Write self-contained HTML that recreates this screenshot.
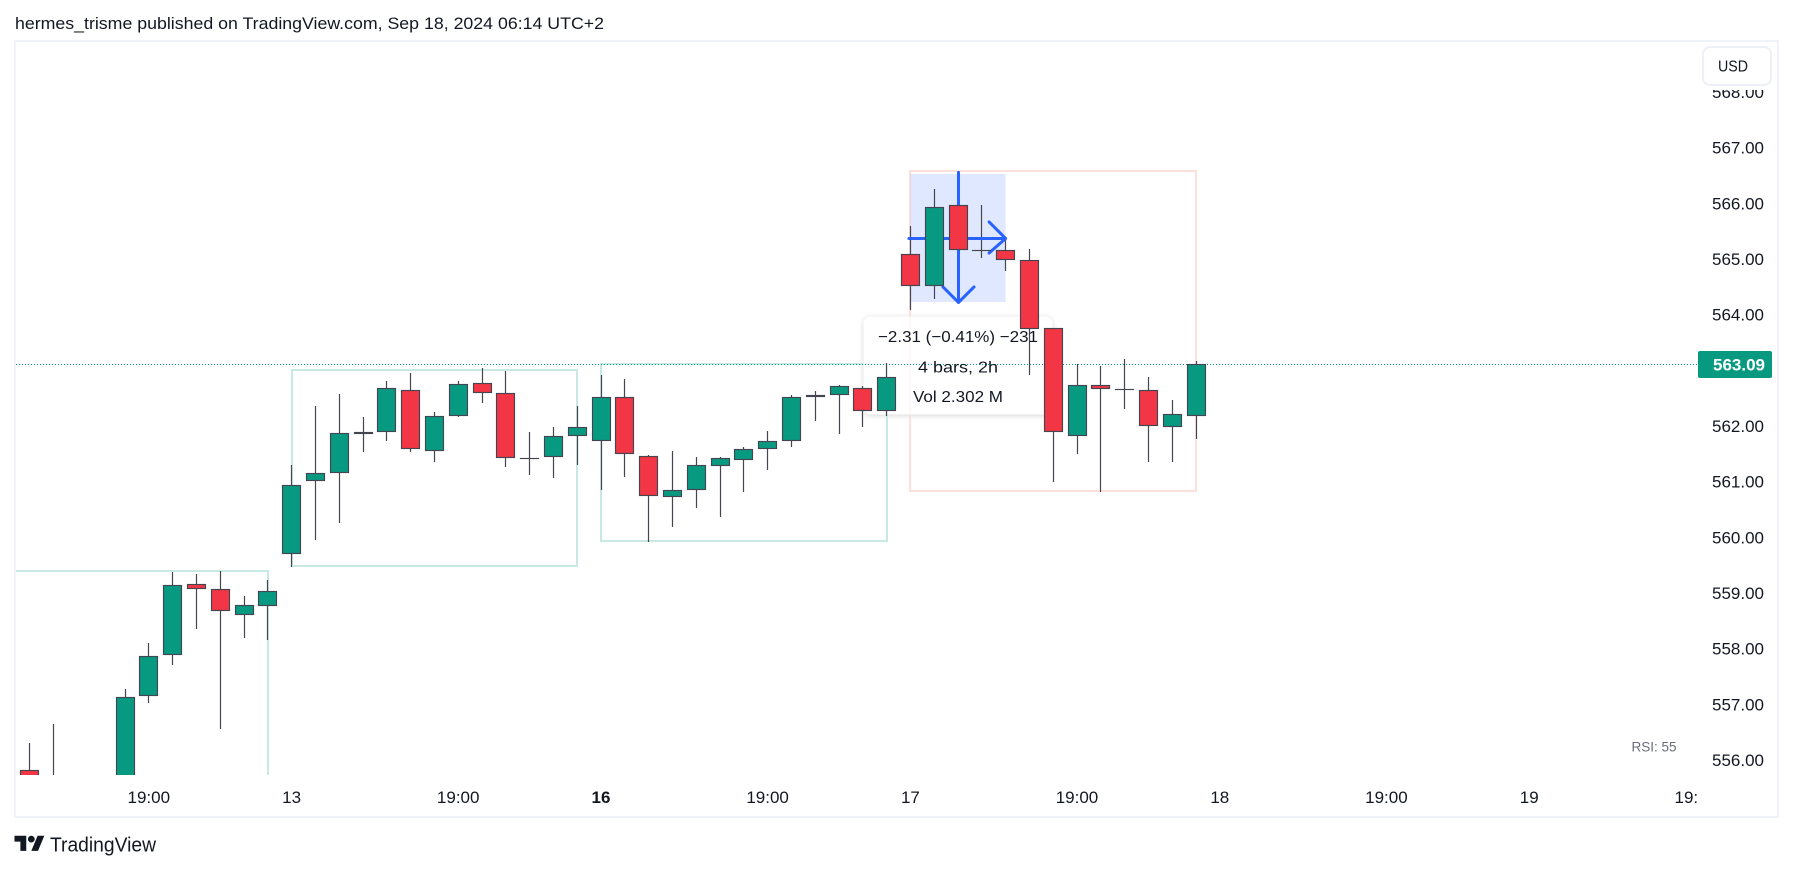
<!DOCTYPE html>
<html lang="en">
<head>
<meta charset="utf-8">
<title>TradingView chart</title>
<style>
html,body{margin:0;padding:0;background:#fff;width:1793px;height:870px;overflow:hidden}
svg{display:block}
text{font-family:"Liberation Sans",sans-serif;fill:#131722}
</style>
</head>
<body>
<svg id="chart" xmlns="http://www.w3.org/2000/svg" width="1793" height="870" viewBox="0 0 1793 870">
  <defs>
    <clipPath id="pane-clip"><rect x="16" y="42" width="1681" height="733"/></clipPath>
    <clipPath id="time-clip"><rect x="16" y="775" width="1681.5" height="41"/></clipPath>
  </defs>
  <rect x="0" y="0" width="1793" height="870" fill="#ffffff"/>
  <text x="15" y="29" font-size="17" textLength="589" lengthAdjust="spacingAndGlyphs">hermes_trisme published on TradingView.com, Sep 18, 2024 06:14 UTC+2</text>
  <rect x="15" y="41" width="1763" height="776" fill="#ffffff" stroke="#f0f3fa" stroke-width="2"/>
  <g id="pane" clip-path="url(#pane-clip)"></g>
  <g id="time-axis" clip-path="url(#time-clip)"></g>
  <g id="price-axis"></g>
  <rect x="1699" y="43" width="76" height="47" fill="#ffffff"/>
  <rect x="1703" y="47" width="68" height="38" rx="7" fill="#ffffff" stroke="#eef0f7" stroke-width="2"/>
  <text x="1718" y="71.5" font-size="16" textLength="30" lengthAdjust="spacingAndGlyphs">USD</text>
  <rect x="1698" y="351" width="74" height="27" rx="2" fill="#089981"/>
  <text id="last-price-text" x="1765" y="370.5" font-size="17" font-weight="bold" text-anchor="end" style="fill:#ffffff"></text>
  <text x="1631.5" y="751.5" font-size="13.5" textLength="45" lengthAdjust="spacingAndGlyphs" style="fill:#6a6d78">RSI: 55</text>
  <g>
    <g transform="translate(14.5,832.4) scale(0.84)" fill="#131722">
      <path d="M14 22H7V11H0V4h14v18zM28 22h-8l7.5-18h8L28 22z"/>
      <circle cx="20" cy="8" r="4"/>
    </g>
    <text x="50" y="851.5" font-size="20" textLength="106" lengthAdjust="spacingAndGlyphs">TradingView</text>
  </g>
  <g font-size="16" text-anchor="middle">
    <text x="958" y="342" textLength="160" lengthAdjust="spacingAndGlyphs">−2.31 (−0.41%) −231</text>
    <text x="958" y="372.5" textLength="80" lengthAdjust="spacingAndGlyphs">4 bars, 2h</text>
    <text x="958" y="402" textLength="90" lengthAdjust="spacingAndGlyphs">Vol 2.302 M</text>
  </g>
</svg>
<script>
// Bar times (30-minute bars, day + time)
const barTimes = [
"12 16:30","12 17:00","12 17:30","12 18:00","12 18:30","12 19:00","12 19:30","12 20:00","12 20:30","12 21:00","12 21:30",
"13 15:30","13 16:00","13 16:30","13 17:00","13 17:30","13 18:00","13 18:30","13 19:00","13 19:30","13 20:00","13 20:30","13 21:00","13 21:30",
"16 15:30","16 16:00","16 16:30","16 17:00","16 17:30","16 18:00","16 18:30","16 19:00","16 19:30","16 20:00","16 20:30","16 21:00","16 21:30",
"17 15:30","17 16:00","17 16:30","17 17:00","17 17:30","17 18:00","17 18:30","17 19:00","17 19:30","17 20:00","17 20:30","17 21:00","17 21:30"];
const opens = [555.81,554.90,554.50,554.90,555.40,557.14,557.86,559.14,559.05,558.59,558.75,
559.69,561.00,561.14,561.84,561.87,562.62,561.54,562.17,562.75,562.57,561.40,561.42,561.80,
561.72,562.50,561.44,560.70,560.83,561.27,561.37,561.56,561.72,562.50,562.53,562.66,562.25,
565.08,564.49,565.95,565.14,565.14,564.96,563.74,561.80,562.71,562.64,562.62,561.97,562.16];
const highs = [556.29,556.63,555.20,555.60,557.26,558.08,559.36,559.32,559.38,558.93,559.22,
561.28,562.34,562.56,562.14,562.79,562.93,562.23,562.79,563.02,562.97,561.87,561.96,562.34,
562.90,562.83,561.46,561.53,561.43,561.43,561.60,561.89,562.54,562.61,562.72,562.70,563.11,
565.57,566.24,566.56,565.95,565.35,565.17,563.74,563.09,563.06,563.19,562.86,562.45,563.15];
const lows = [555.00,554.60,554.20,554.70,555.20,557.01,557.68,558.34,556.54,558.18,558.13,
559.45,559.93,560.24,561.52,561.72,561.52,561.34,562.15,562.40,561.25,561.10,561.04,561.29,
560.83,561.07,559.90,560.17,560.50,560.35,560.80,561.20,561.61,562.08,561.84,561.97,562.17,
564.07,564.27,564.65,565.00,564.77,562.89,560.98,561.48,560.80,562.28,561.34,561.34,561.74];
const closes = [555.45,555.30,554.90,555.40,557.11,557.85,559.12,559.06,558.66,558.76,559.01,
560.93,561.13,561.85,561.87,562.66,561.56,562.17,562.73,562.57,561.40,561.41,561.80,561.96,
562.50,561.47,560.72,560.83,561.28,561.40,561.56,561.72,562.50,562.53,562.70,562.25,562.86,
564.49,565.91,565.14,565.14,564.96,563.72,561.87,562.71,562.64,562.64,561.99,562.19,563.09];

// Axis ticks
const priceTicks = [568,567,566,565,564,563,562,561,560,559,558,557,556];
const timeTickBars = [5,11,18,24,31,37,44,50,57,63,70];
const timeTickLabels = ["19:00","13","19:00","16","19:00","17","19:00","18","19:00","19","19:00"];
const timeTickBold = [false,false,false,true,false,false,false,false,false,false,false];
const lastPrice = 563.09;

// Annotation boxes, anchored to bars and prices
const boxStartBars = [-2,11,24,37];
const boxEndBars = [10,23,36,49];
const boxTopPrices = [559.38,562.99,563.09,566.56];
const boxBottomPrices = [555.00,559.47,559.92,560.82];
const boxKinds = ["teal","teal","teal","red"];
// Long/short measure anchored to bars and prices
const measureStartBar = 37;
const measureEndBar = 41;
const measureMidBar = 39;
const measureTop = 566.51;
const measureBottom = 564.21;
const measureMidPrice = 565.35;

// Axis functions
function xOf(barIndex){ return 29.8 + 23.8 * barIndex; }
function yOf(price){ return 364.3 - (price - 563.09) * 55.67; }

const NS = 'http://www.w3.org/2000/svg';
function make(tag, parent, props){
  const el = document.createElementNS(NS, tag);
  for (const k in props) el.setAttribute(k, props[k]);
  parent.appendChild(el);
  return el;
}
const pane = document.getElementById('pane');
const timeAxis = document.getElementById('time-axis');
const priceAxis = document.getElementById('price-axis');

// Tooltip shadow sits under everything in the pane
const tooltipShadow = make('rect', pane, {
  x: 863.5, y: 316.5, width: 189, height: 98, rx: 7,
  fill: '#ffffff',
  style: 'filter:drop-shadow(0 1px 3px rgba(0,0,0,0.16))'
});



// Annotation rectangles
boxKinds.forEach(function(kind, i){
  const left = Math.round(xOf(boxStartBars[i]));
  const top = Math.round(yOf(boxTopPrices[i]));
  const el = make('rect', pane, {
    x: left, y: top,
    width: Math.round(xOf(boxEndBars[i])) - left,
    height: Math.round(yOf(boxBottomPrices[i])) - top,
    fill: 'none',
    stroke: kind === 'teal' ? '#c8e8e3' : '#fde0dc',
    'stroke-width': 2
  });
  
  
});

// Measure highlight
(function(){
  const left = xOf(measureStartBar);
  const top = yOf(measureTop);
  const el = make('rect', pane, {
    x: left, y: top,
    width: xOf(measureEndBar) - left,
    height: yOf(measureBottom) - top,
    fill: '#2962ff', 'fill-opacity': 0.15
  });
  
  
})();

// Tooltip panel
const tooltipPanel = make('rect', pane, {
  x: 863.5, y: 316.5, width: 189, height: 98, rx: 7,
  fill: 'rgba(255,255,255,0.75)'
});



// Last price line
const lastLine = make('line', pane, {
  x1: 16, x2: 1697,
  y1: Math.floor(yOf(lastPrice)) + 0.5, y2: Math.floor(yOf(lastPrice)) + 0.5,
  stroke: '#089981', 'stroke-width': 1, 'stroke-dasharray': '1 2'
});



// Wicks
barTimes.forEach(function(t, i){
  const px = Math.floor(xOf(i));
  const top = Math.round(yOf(highs[i]));
  const el = make('rect', pane, {
    x: px - 0.1, y: top, width: 1.2,
    height: Math.round(yOf(lows[i])) - top,
    fill: '#434651'
  });
  
  
});

// Measure arrows
(function(){
  const xL = xOf(measureStartBar) - 1.5;
  const xR = xOf(measureEndBar);
  const xM = xOf(measureMidBar) + 0.5;
  const yT = yOf(measureTop) - 1.5;
  const yB = yOf(measureBottom) + 0.5;
  const yM = yOf(measureMidPrice);
  const h = 'M' + xL + ' ' + yM + 'L' + xR + ' ' + yM + 'M' + (xR - 16.5) + ' ' + (yM - 16.5) + 'L' + xR + ' ' + yM + 'L' + (xR - 16.5) + ' ' + (yM + 14.5);
  const v = 'M' + xM + ' ' + yT + 'L' + xM + ' ' + yB + 'M' + (xM - 15.5) + ' ' + (yB - 15.5) + 'L' + xM + ' ' + yB + 'L' + (xM + 15.5) + ' ' + (yB - 15.5);
  const arrowH = make('path', pane, {d: h, fill: 'none', stroke: '#2962ff', 'stroke-width': 3, 'stroke-linecap': 'round', 'stroke-linejoin': 'round'});
  
  
  const arrowV = make('path', pane, {d: v, fill: 'none', stroke: '#2962ff', 'stroke-width': 3, 'stroke-linecap': 'round', 'stroke-linejoin': 'round'});
  
  
})();

// Candle bodies
barTimes.forEach(function(t, i){
  const px = Math.floor(xOf(i));
  const up = closes[i] >= opens[i];
  const top = Math.round(yOf(Math.max(opens[i], closes[i]))) + 0.5;
  const bottom = Math.round(yOf(Math.min(opens[i], closes[i]))) - 0.5;
  const el = make('rect', pane, {
    x: px - 8.5, y: top, width: 18,
    height: Math.max(bottom - top, 0.01),
    fill: up ? '#089981' : '#f23645',
    stroke: '#434651', 'stroke-width': 1.15
  });
  
  
});

// Time axis labels
timeTickLabels.forEach(function(label, i){
  const el = make('text', timeAxis, {
    x: xOf(timeTickBars[i]), y: 803, 'font-size': 17, 'text-anchor': 'middle',
    'font-weight': timeTickBold[i] ? 'bold' : 'normal'
  });
  el.textContent = label;
  
  
});

// Price axis labels
priceTicks.forEach(function(p){
  const el = make('text', priceAxis, {
    x: 1764, y: yOf(p) + 7, 'font-size': 17, 'text-anchor': 'end'
  });
  el.textContent = p.toFixed(2);
  
  
});

document.getElementById('last-price-text').textContent = lastPrice.toFixed(2);
</script>
</body>
</html>
